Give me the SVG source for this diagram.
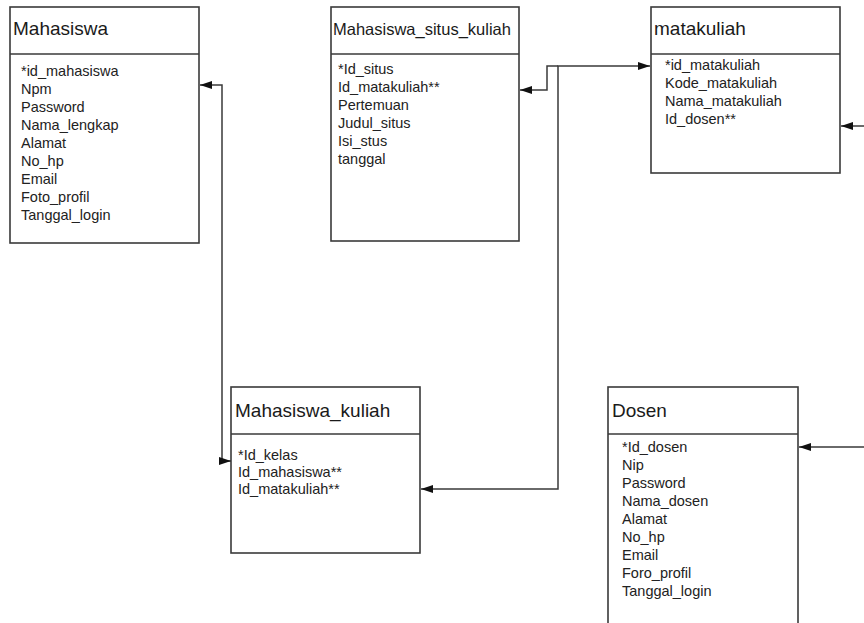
<svg xmlns="http://www.w3.org/2000/svg" width="864" height="623" viewBox="0 0 864 623">
<defs>
<style>
.box{fill:#fff;stroke:#3a3a3a;stroke-width:1.6}
.sep{stroke:#3a3a3a;stroke-width:1.6}
.title{font-family:"Liberation Sans",Arial,sans-serif;font-size:19px;fill:#1a1a1a}
.title2{font-family:"Liberation Sans",Arial,sans-serif;font-size:16.5px;fill:#1a1a1a}
.attr{font-family:"Liberation Sans",Arial,sans-serif;font-size:14.5px;fill:#222}
.conn{fill:none;stroke:#3a3a3a;stroke-width:1.5;marker-start:url(#arr);marker-end:url(#arr)}
.conn1{fill:none;stroke:#3a3a3a;stroke-width:1.5;marker-end:url(#arr)}
</style>
<marker id="arr" viewBox="0 0 12 8" refX="12" refY="4" markerWidth="12" markerHeight="8" markerUnits="userSpaceOnUse" orient="auto-start-reverse">
<path d="M0 0 L12 4 L0 8 z" fill="#111"/>
</marker>
</defs>
<rect width="864" height="623" fill="#fff"/>

<g id="mahasiswa">
<rect class="box" x="10" y="7" width="189" height="236"/>
<line class="sep" x1="10" y1="54" x2="199" y2="54"/>
<text class="title" x="13" y="35">Mahasiswa</text>
<text class="attr" x="21" y="76">*id_mahasiswa</text>
<text class="attr" x="21" y="94">Npm</text>
<text class="attr" x="21" y="112">Password</text>
<text class="attr" x="21" y="130">Nama_lengkap</text>
<text class="attr" x="21" y="148">Alamat</text>
<text class="attr" x="21" y="166">No_hp</text>
<text class="attr" x="21" y="184">Email</text>
<text class="attr" x="21" y="202">Foto_profil</text>
<text class="attr" x="21" y="220">Tanggal_login</text>
</g>

<g id="mahasiswa_situs_kuliah">
<rect class="box" x="331" y="7" width="188" height="234"/>
<line class="sep" x1="331" y1="54" x2="519" y2="54"/>
<text class="title2" x="333" y="35">Mahasiswa_situs_kuliah</text>
<text class="attr" x="338" y="74">*Id_situs</text>
<text class="attr" x="338" y="92">Id_matakuliah**</text>
<text class="attr" x="338" y="110">Pertemuan</text>
<text class="attr" x="338" y="128">Judul_situs</text>
<text class="attr" x="338" y="146">Isi_stus</text>
<text class="attr" x="338" y="164">tanggal</text>
</g>

<g id="matakuliah">
<rect class="box" x="651" y="7" width="189" height="166"/>
<line class="sep" x1="651" y1="54" x2="840" y2="54"/>
<text class="title" x="654" y="35">matakuliah</text>
<text class="attr" x="665" y="70">*id_matakuliah</text>
<text class="attr" x="665" y="88">Kode_matakuliah</text>
<text class="attr" x="665" y="106">Nama_matakuliah</text>
<text class="attr" x="665" y="124">Id_dosen**</text>
</g>

<g id="mahasiswa_kuliah">
<rect class="box" x="231" y="387" width="189" height="166"/>
<line class="sep" x1="231" y1="434" x2="420" y2="434"/>
<text class="title" x="235" y="417">Mahasiswa_kuliah</text>
<text class="attr" x="238" y="460">*Id_kelas</text>
<text class="attr" x="238" y="477">Id_mahasiswa**</text>
<text class="attr" x="238" y="494">Id_matakuliah**</text>
</g>

<g id="dosen">
<rect class="box" x="608" y="387" width="190" height="260"/>
<line class="sep" x1="608" y1="434" x2="798" y2="434"/>
<text class="title" x="612" y="417">Dosen</text>
<text class="attr" x="622" y="452">*Id_dosen</text>
<text class="attr" x="622" y="470">Nip</text>
<text class="attr" x="622" y="488">Password</text>
<text class="attr" x="622" y="506">Nama_dosen</text>
<text class="attr" x="622" y="524">Alamat</text>
<text class="attr" x="622" y="542">No_hp</text>
<text class="attr" x="622" y="560">Email</text>
<text class="attr" x="622" y="578">Foro_profil</text>
<text class="attr" x="622" y="596">Tanggal_login</text>
</g>

<g id="connectors">
<path class="conn" d="M 200 85 H 222 V 461 H 231"/>
<path class="conn" d="M 421 489 H 558 V 66 H 650"/>
<path class="conn1" d="M 558 66 H 547 V 90 H 520"/>
<path class="conn" d="M 799 447 H 890 V 126 H 841"/>
</g>
</svg>
